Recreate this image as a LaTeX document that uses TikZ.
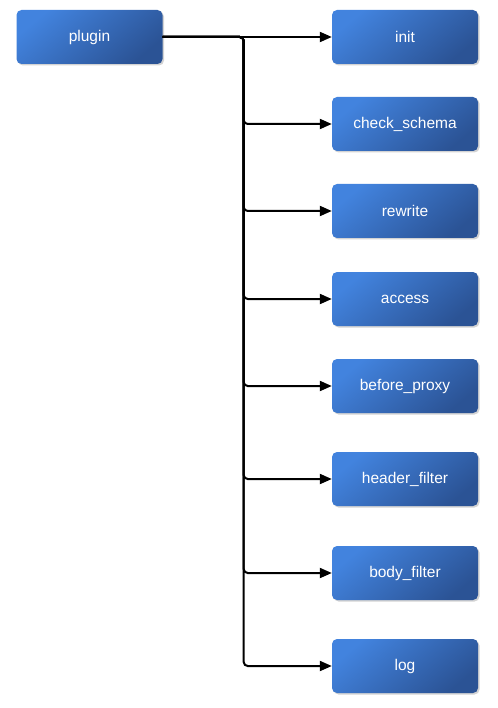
\documentclass[tikz,border=0pt]{standalone}
\usepackage{fontspec}
\setmainfont{Liberation Sans}
\usetikzlibrary{arrows.meta,positioning,shadings,shadows}

\definecolor{hookLight}{HTML}{4283DE}
\definecolor{hookDark}{HTML}{2B5395}

\begin{document}
\begin{tikzpicture}[x=1pt,y=1pt,on grid,node distance=87pt,
    stage/.style={rectangle,rounded corners=5pt,minimum width=146pt,
      minimum height=54pt,text=white,
      font=\fontsize{15.5}{18}\selectfont,
      top color=hookLight,bottom color=hookDark,shading angle=40,
      drop shadow={opacity=0.35,shadow xshift=1.5pt,shadow yshift=-1.5pt}},
    link/.style={-{Triangle[length=12pt,width=10pt]},line width=2pt,
      rounded corners=4pt}]

    \useasboundingbox (0,0) rectangle (497,-708);

    \node[stage] (plugin) at (89.5,-37)             {plugin};
    \node[stage] (init)   [right=315.5pt of plugin] {init};
    \node[stage] (check)  [below=of init]           {check\_schema};
    \node[stage] (rewrite)[below=of check]          {rewrite};
    \node[stage] (access) [below=88pt of rewrite]   {access};
    \node[stage] (before) [below=of access]         {before\_proxy};
    \node[stage] (header) [below=93pt of before]    {header\_filter};
    \node[stage] (body)   [below=94pt of header]    {body\_filter};
    \node[stage] (log)    [below=93pt of body]      {log};

    % one line per hook, all through the same bus
    \draw[link] (plugin.east) -- (init.west);
    \foreach \hook in {check,rewrite,access,before,header,body,log}
        \draw[link] (plugin.east) -| ++(81,-20) |- (\hook.west);
\end{tikzpicture}
\end{document}
